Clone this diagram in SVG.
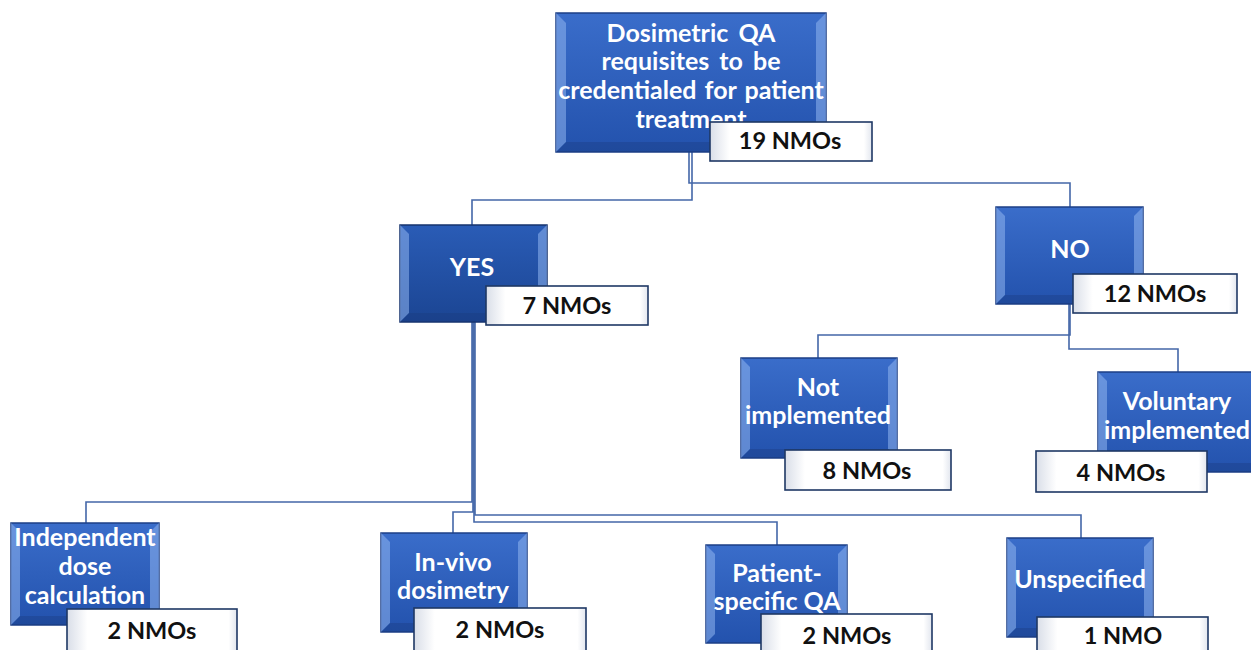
<svg xmlns="http://www.w3.org/2000/svg" width="1251" height="650" viewBox="0 0 1251 650">
<style>
.bx{fill:url(#gb);stroke:#1c3f86;stroke-width:1.5}
.bxd{fill:url(#gd);stroke:#16336e;stroke-width:1.5}
.bv{fill:#8fb4ee;opacity:0.55}
.bvd{fill:#1a3a7a;opacity:0.35}
.lb{fill:url(#gl);stroke:#1f3864;stroke-width:1.6}
.t{font-family:Lato,"Open Sans",sans-serif;font-weight:700;font-size:25px;fill:#ffffff;text-anchor:middle}
.n{font-family:Lato,"Open Sans",sans-serif;font-weight:700;font-size:23.5px;fill:#111111;text-anchor:middle}
.c{fill:none;stroke:#4467a8;stroke-width:1.6}
</style>
<defs>
<linearGradient id="gb" x1="0" y1="0" x2="0" y2="1">
<stop offset="0" stop-color="#3a6dca"/>
<stop offset="1" stop-color="#2352ad"/>
</linearGradient>
<linearGradient id="gd" x1="0" y1="0" x2="0" y2="1">
<stop offset="0" stop-color="#2a5cb6"/>
<stop offset="1" stop-color="#1b4593"/>
</linearGradient>
<linearGradient id="gl" x1="0" y1="0" x2="1" y2="0">
<stop offset="0" stop-color="#d9dee8"/>
<stop offset="0.12" stop-color="#ffffff"/>
<stop offset="0.95" stop-color="#ffffff"/>
<stop offset="1" stop-color="#e2e6ee"/>
</linearGradient>
</defs>
<rect width="1251" height="650" fill="#ffffff"/>
<g id="connectors">
<path class="c" d="M689 152V183H1070V207"/>
<path class="c" d="M692 152V200H472V225"/>
<path class="c" d="M1070 304V335H818V358"/>
<path class="c" d="M1069 304V349H1178V372"/>
<path class="c" d="M472 322V502H86V523"/>
<path class="c" d="M473 322V512H453V533"/>
<path class="c" d="M474 322V522H777V545"/>
<path class="c" d="M475 322V515H1081V538"/>
</g>
<g id="root">
<rect class="bx" x="556" y="13" width="270" height="139"/>
<polygon class="bv" points="556,13 566,23 566,142 556,152"/>
<polygon class="bv" points="826,13 816,23 816,142 826,152"/>
<polygon class="bvd" points="556,152 566,142 816,142 826,152"/>
<text class="t" x="691" y="42" word-spacing="4">Dosimetric QA</text>
<text class="t" x="691" y="70" word-spacing="4">requisites to be</text>
<text class="t" x="691" y="99" word-spacing="2">credentialed for patient</text>
<text class="t" x="691" y="128">treatment</text>
<rect class="lb" x="710" y="122" width="162" height="39"/>
<text class="n" x="790" y="149">19 NMOs</text>
</g>
<g id="yes">
<rect class="bxd" x="400" y="225" width="147" height="97"/>
<polygon class="bv" points="400,225 409,234 409,313 400,322"/>
<polygon class="bv" points="547,225 538,234 538,313 547,322"/>
<polygon class="bvd" points="400,322 409,313 538,313 547,322"/>
<text class="t" x="472" y="276">YES</text>
<rect class="lb" x="486" y="286" width="162" height="39"/>
<text class="n" x="567" y="314">7 NMOs</text>
</g>
<g id="no">
<rect class="bx" x="996" y="207" width="147" height="97"/>
<polygon class="bv" points="996,207 1005,216 1005,295 996,304"/>
<polygon class="bv" points="1143,207 1134,216 1134,295 1143,304"/>
<polygon class="bvd" points="996,304 1005,295 1134,295 1143,304"/>
<text class="t" x="1070" y="258">NO</text>
<rect class="lb" x="1073" y="274" width="164" height="39"/>
<text class="n" x="1155" y="302">12 NMOs</text>
</g>
<g id="not-implemented">
<rect class="bx" x="741" y="358" width="156" height="100"/>
<polygon class="bv" points="741,358 750,367 750,449 741,458"/>
<polygon class="bv" points="897,358 888,367 888,449 897,458"/>
<polygon class="bvd" points="741,458 750,449 888,449 897,458"/>
<text class="t" x="818" y="396">Not</text>
<text class="t" x="818" y="424">implemented</text>
<rect class="lb" x="785" y="450" width="166" height="40"/>
<text class="n" x="867" y="479">8 NMOs</text>
</g>
<g id="voluntary">
<rect class="bx" x="1098" y="372" width="162" height="100"/>
<polygon class="bv" points="1098,372 1107,381 1107,463 1098,472"/>
<polygon class="bvd" points="1098,472 1107,463 1260,463 1260,472"/>
<text class="t" x="1177" y="410">Voluntary</text>
<text class="t" x="1177" y="439">implemented</text>
<rect class="lb" x="1036" y="451" width="171" height="41"/>
<text class="n" x="1121" y="481">4 NMOs</text>
</g>
<g id="independent">
<rect class="bx" x="11" y="523" width="148" height="102"/>
<polygon class="bv" points="11,523 20,532 20,616 11,625"/>
<polygon class="bv" points="159,523 150,532 150,616 159,625"/>
<polygon class="bvd" points="11,625 20,616 150,616 159,625"/>
<text class="t" x="85" y="546">Independent</text>
<text class="t" x="85" y="575">dose</text>
<text class="t" x="85" y="604">calculation</text>
<rect class="lb" x="67" y="609" width="170" height="50"/>
<text class="n" x="152" y="639">2 NMOs</text>
</g>
<g id="in-vivo">
<rect class="bx" x="381" y="533" width="146" height="99"/>
<polygon class="bv" points="381,533 390,542 390,623 381,632"/>
<polygon class="bv" points="527,533 518,542 518,623 527,632"/>
<polygon class="bvd" points="381,632 390,623 518,623 527,632"/>
<text class="t" x="453" y="571">In-vivo</text>
<text class="t" x="453" y="599">dosimetry</text>
<rect class="lb" x="414" y="608" width="172" height="50"/>
<text class="n" x="500" y="638">2 NMOs</text>
</g>
<g id="patient-specific">
<rect class="bx" x="706" y="545" width="141" height="98"/>
<polygon class="bv" points="706,545 715,554 715,634 706,643"/>
<polygon class="bv" points="847,545 838,554 838,634 847,643"/>
<text class="t" x="777" y="582">Patient-</text>
<text class="t" x="777" y="610">specific QA</text>
<rect class="lb" x="761" y="614" width="171" height="50"/>
<text class="n" x="847" y="644">2 NMOs</text>
</g>
<g id="unspecified">
<rect class="bx" x="1007" y="538" width="146" height="99"/>
<polygon class="bv" points="1007,538 1016,547 1016,628 1007,637"/>
<polygon class="bv" points="1153,538 1144,547 1144,628 1153,637"/>
<polygon class="bvd" points="1007,637 1016,628 1144,628 1153,637"/>
<text class="t" x="1080" y="588">Unspecified</text>
<rect class="lb" x="1037" y="617" width="171" height="50"/>
<text class="n" x="1123" y="644">1 NMO</text>
</g>
</svg>
